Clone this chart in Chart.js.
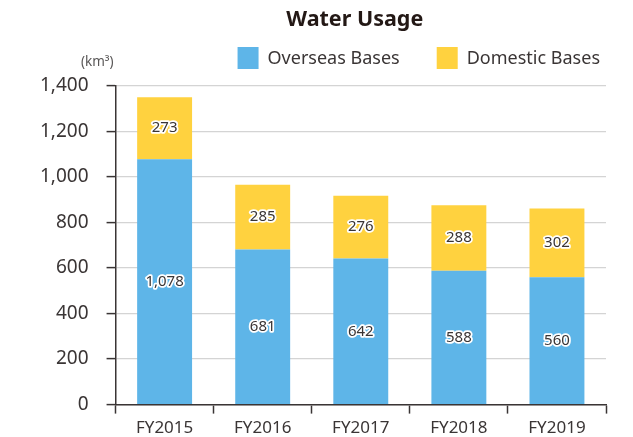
<!DOCTYPE html>
<html>
<head>
<meta charset="utf-8">
<script src="https://cdn.jsdelivr.net/npm/chart.js@4"></script>
<style>
html,body{margin:0;padding:0;background:#fff}
#wrap{width:633px;height:437px}
</style>
</head>
<body>
<div id="wrap"><canvas id="c" width="633" height="437"></canvas></div>
<script>
const years=['FY2015','FY2016','FY2017','FY2018','FY2019']
const overseas=[1078,681,642,588,560]
const domestic=[273,285,276,288,302]
const yTicks=[0,200,400,600,800,1000,1200,1400]
const title='Water Usage'
const unit='(km³)'

const FONT='"Noto Sans", sans-serif'
const TXT='#3a3535'

// white-haloed numbers in the middle of each segment
const segLabels={
id:'segLabels',
afterDatasetsDraw(chart){
const ctx=chart.ctx
ctx.save()
ctx.font='15px '+FONT
ctx.textAlign='center'
ctx.textBaseline='middle'
ctx.lineJoin='round'
chart.data.datasets.forEach((ds,i)=>{
chart.getDatasetMeta(i).data.forEach((bar,j)=>{
const p=bar.getProps(['x','y','base'],true)
const y=(p.y+p.base)/2
const s=ds.data[j].toLocaleString('en-US')
ctx.strokeStyle='#fff'
ctx.lineWidth=3.5
ctx.strokeText(s,p.x,y)
ctx.fillStyle=TXT
ctx.fillText(s,p.x,y)
})
})
ctx.restore()
}
}

// title, legend and unit above the plot
const header={
id:'header',
afterDraw(chart){
const ctx=chart.ctx,a=chart.chartArea
ctx.save()
ctx.textBaseline='middle'
ctx.fillStyle='#231815'
ctx.font='bold 21.5px '+FONT
ctx.textAlign='center'
ctx.fillText(title,(a.left+a.right)/2-6,20)

ctx.font='18px '+FONT
ctx.textAlign='left'
let x=a.right-6
const items=chart.data.datasets.map(d=>({t:d.label,c:d.backgroundColor})).reverse()
items.forEach(it=>{
const w=ctx.measureText(it.t).width
x-=w
ctx.fillStyle='#3a3535'
ctx.fillText(it.t,x,59)
x-=9+21
ctx.fillStyle=it.c
ctx.fillRect(x,47,21,22)
x-=37
})

ctx.font='13.5px '+FONT
ctx.fillStyle='#595757'
ctx.textAlign='right'
ctx.fillText(unit,a.left-2,62)
ctx.restore()
}
}

new Chart(document.getElementById('c'),{
type:'bar',
data:{labels:years,datasets:[
{label:'Overseas Bases',data:overseas,backgroundColor:'#5eb5e8',barPercentage:0.56,categoryPercentage:1},
{label:'Domestic Bases',data:domestic,backgroundColor:'#ffd23f',barPercentage:0.56,categoryPercentage:1}
]},
options:{
responsive:false,
animation:false,
layout:{padding:{top:86,right:27,bottom:-5,left:22}},
plugins:{legend:{display:false},title:{display:false},tooltip:{enabled:false}},
scales:{
x:{stacked:true,
grid:{display:true,drawOnChartArea:false,offset:true,tickLength:9,tickColor:'#3a3535',tickWidth:1.5},
border:{color:'#3a3535',width:1.5},
ticks:{color:TXT,font:{family:FONT,size:17},padding:4}},
y:{stacked:true,min:0,max:1400,
afterBuildTicks(s){s.ticks=yTicks.map(v=>({value:v}))},
grid:{color:'#d4d4d4',lineWidth:1.2,tickLength:9,tickColor:'#3a3535',tickWidth:1.5},
border:{color:'#3a3535',width:1.5},
ticks:{color:TXT,font:{family:FONT,size:19},padding:18,
callback:v=>v.toLocaleString('en-US')}}
}
},
plugins:[segLabels,header]
})
</script>
</body>
</html>
